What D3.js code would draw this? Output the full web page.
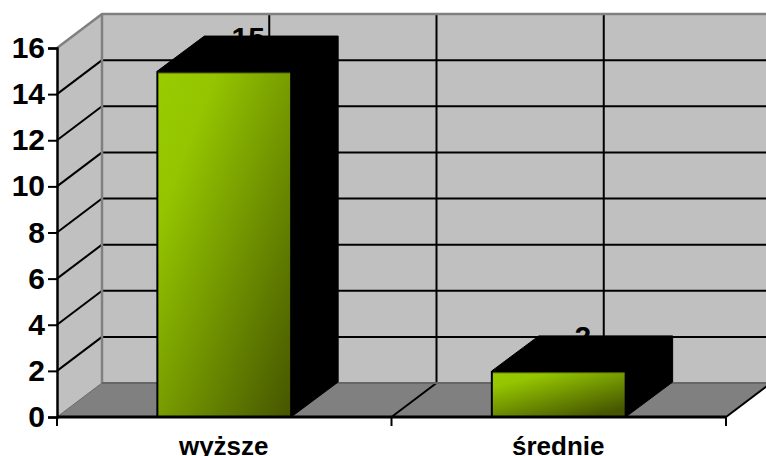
<!DOCTYPE html>
<html><head><meta charset="utf-8">
<script src="https://cdn.jsdelivr.net/npm/d3@7/dist/d3.min.js"></script>
<style>html,body{margin:0;padding:0;background:#fff}svg{display:block}text{font-family:"Liberation Sans",Arial,sans-serif;font-weight:bold;fill:#000}</style>
</head><body><svg id="c" width="766" height="456"></svg>
<script>
const categories = ["wyższe", "średnie"];
const values = [15, 2];
const valueLabels = ["15", "2"];
const yTicks = [0, 2, 4, 6, 8, 10, 12, 14, 16];

const W = 766, H = 456;
const dx = 45, dy = -34;          // wall depth
const barDx = 47, barDy = -35;    // bar depth
const svg = d3.select("#c");
const y = d3.scaleLinear().domain([0, 16]).range([417, 48]);
const x = d3.scaleBand().domain(categories).range([57, 726]);
const barW = x.bandwidth() * 0.4;
const poly = p => p.map(q => q.join(",")).join(" ");

const defs = svg.append("defs");
function grad(id, x2, y2) {
  const g = defs.append("linearGradient").attr("id", id)
    .attr("x1", "0").attr("y1", "0").attr("x2", x2).attr("y2", y2);
  g.append("stop").attr("offset", "0").attr("stop-color", "#99cc00");
  g.append("stop").attr("offset", "0.22").attr("stop-color", "#94c500");
  g.append("stop").attr("offset", "1").attr("stop-color", "#455500");
}
grad("g0", 1, 1);
grad("g1", 0.75, 1);

const x0 = x.range()[0], x1 = x.range()[1];
const yB = y(0), yT = y(16);
const step = x.step();

// back wall, side wall, floor
svg.append("rect").attr("x", x0 + dx).attr("y", yT + dy).attr("width", W).attr("height", yB - yT)
  .attr("fill", "#c0c0c0");
svg.append("polygon").attr("points", poly([[x0, yT], [x0 + dx, yT + dy], [x0 + dx, yB + dy], [x0, yB]]))
  .attr("fill", "#c0c0c0");
svg.append("polygon").attr("points", poly([[x0, yB], [x0 + dx, yB + dy], [x1 + dx, yB + dy], [x1, yB]]))
  .attr("fill", "#808080");

// horizontal gridlines on walls
yTicks.slice(1, -1).forEach(t => {
  svg.append("line").attr("x1", x0).attr("y1", y(t)).attr("x2", x0 + dx).attr("y2", y(t) + dy)
    .attr("stroke", "#000").attr("stroke-width", 2);
  svg.append("line").attr("x1", x0 + dx).attr("y1", y(t) + dy).attr("x2", W).attr("y2", y(t) + dy)
    .attr("stroke", "#000").attr("stroke-width", 2);
});
// vertical gridlines on back wall and floor
[0.5, 1, 1.5].forEach(k => {
  const gx = x0 + dx + k * step;
  svg.append("line").attr("x1", gx).attr("y1", yT + dy).attr("x2", gx).attr("y2", yB + dy)
    .attr("stroke", "#000").attr("stroke-width", 2);
});
[1, 2].forEach(k => {
  const gx = x0 + k * step;
  svg.append("line").attr("x1", gx).attr("y1", yB).attr("x2", gx + dx).attr("y2", yB + dy)
    .attr("stroke", "#000").attr("stroke-width", 2);
});
// wall outlines
svg.append("polyline").attr("points", poly([[x0, yT], [x0 + dx, yT + dy], [W, yT + dy]]))
  .attr("fill", "none").attr("stroke", "#808080").attr("stroke-width", 2.5);
svg.append("line").attr("x1", x0 + dx).attr("y1", yT + dy).attr("x2", x0 + dx).attr("y2", yB + dy)
  .attr("stroke", "#808080").attr("stroke-width", 2.5);
svg.append("line").attr("x1", x0 + dx).attr("y1", yB + dy).attr("x2", W).attr("y2", yB + dy)
  .attr("stroke", "#666").attr("stroke-width", 2);
svg.append("line").attr("x1", x0).attr("y1", yB).attr("x2", x0 + dx).attr("y2", yB + dy)
  .attr("stroke", "#666").attr("stroke-width", 1);

// value labels sit behind the bars
svg.selectAll("text.val").data(values).join("text").attr("class", "val")
  .attr("x", (d, i) => x(categories[i]) + x.bandwidth() / 2 + 24)
  .attr("y", d => y(d) - 23.5)
  .attr("text-anchor", "middle").attr("font-size", 30)
  .text((d, i) => valueLabels[i]);

// bars
values.forEach((v, i) => {
  const left = x(categories[i]) + (x.bandwidth() - barW) / 2;
  const right = left + barW, top = y(v);
  svg.append("polygon")
    .attr("points", poly([[left, top], [left + barDx, top + barDy], [right + barDx, top + barDy], [right + barDx, yB + barDy], [right, yB], [right, top]]))
    .attr("fill", "#000").attr("stroke", "#000").attr("stroke-width", 1);
  svg.append("rect").attr("x", left).attr("y", top + 1).attr("width", barW).attr("height", yB - top - 1)
    .attr("fill", `url(#g${i})`).attr("stroke", "#000").attr("stroke-width", 2);
  svg.append("line").attr("x1", left + 1).attr("y1", top + 2).attr("x2", right - 1).attr("y2", top + 2)
    .attr("stroke", "#5f7a00").attr("stroke-width", 1);
});

// axes
const yAxis = d3.axisLeft(y).tickValues(yTicks).tickSize(9).tickPadding(3);
const gy = svg.append("g").attr("transform", `translate(${x0},0)`).call(yAxis);
gy.select(".domain").attr("stroke-width", 2.5);
gy.selectAll(".tick line").attr("stroke-width", 2);
gy.selectAll("text").attr("font-size", 30);

const gx = svg.append("g").attr("transform", `translate(0,${yB})`);
gx.append("line").attr("x1", x0).attr("x2", x1).attr("stroke", "#000").attr("stroke-width", 3);
[0, 1, 2].forEach(k => gx.append("line").attr("x1", x0 + k * step).attr("x2", x0 + k * step)
  .attr("y1", 0).attr("y2", 9).attr("stroke", "#000").attr("stroke-width", 2));
gx.selectAll("text").data(categories).join("text")
  .attr("x", d => x(d) + x.bandwidth() / 2 - 0.5).attr("y", 37.5)
  .attr("text-anchor", "middle").attr("font-size", 26).text(d => d);
</script></body></html>
